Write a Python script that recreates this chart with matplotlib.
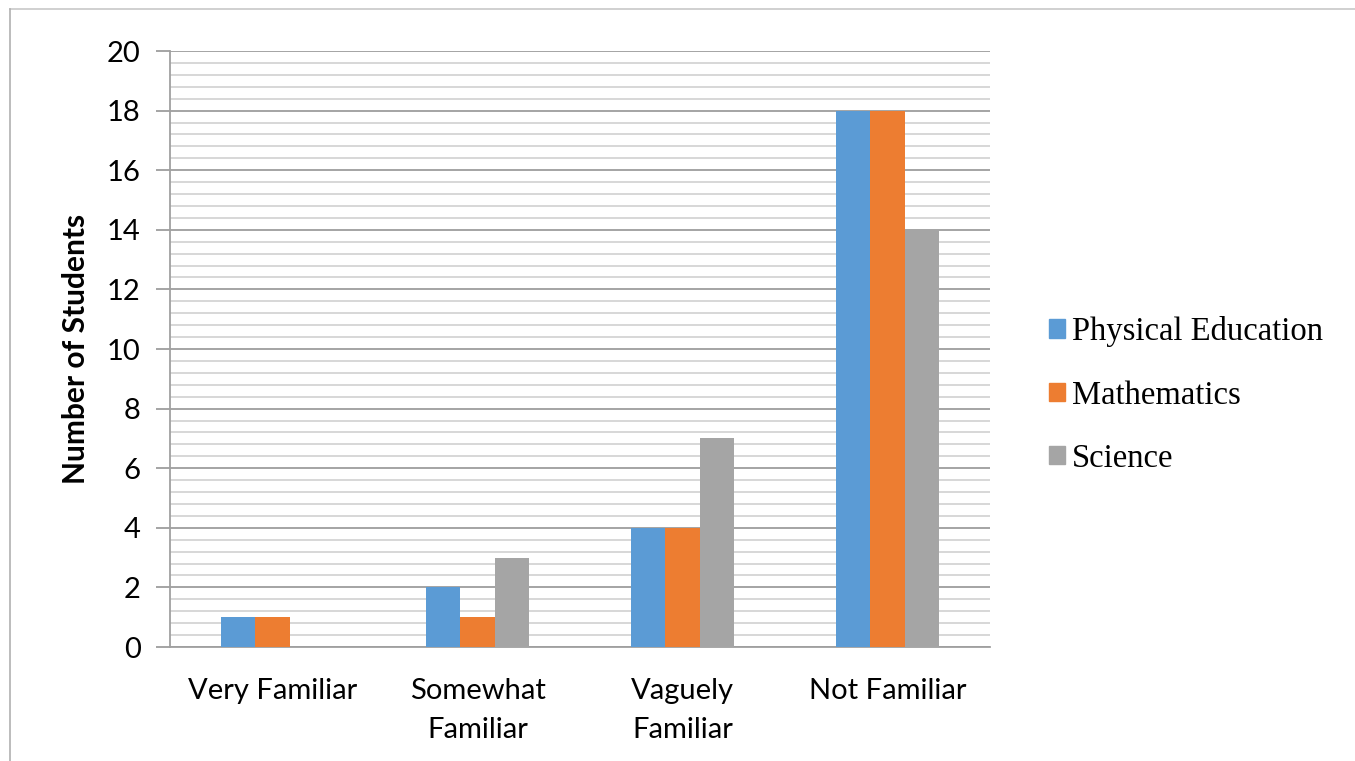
import matplotlib
matplotlib.use("Agg")
import matplotlib.pyplot as plt
from matplotlib.patches import Rectangle
from matplotlib.lines import Line2D
import numpy as np

categories = ["Very Familiar", "Somewhat\nFamiliar", "Vaguely\nFamiliar", "Not Familiar"]
series_names = ["Physical Education", "Mathematics", "Science"]
physical_education = [1, 2, 4, 18]
mathematics = [1, 1, 4, 18]
science = [0, 3, 7, 14]
colors = ["#5B9BD5", "#ED7D31", "#A5A5A5"]
y_ticks = [0, 2, 4, 6, 8, 10, 12, 14, 16, 18, 20]

sans = ["Lato", "DejaVu Sans"]
serif = ["Liberation Serif", "DejaVu Serif"]

fig = plt.figure(figsize=(13.55, 7.61), dpi=100)
ax = fig.add_axes([170 / 1355, 114 / 761, 820 / 1355, 596 / 761])

x = np.arange(len(categories))
width = 0.166
for i, (vals, c) in enumerate(zip([physical_education, mathematics, science], colors)):
    ax.bar(x + (i - 1) * width, vals, width, color=c, zorder=3, label=series_names[i])

ax.set_xlim(-0.5, len(categories) - 0.5)
ax.set_ylim(0, 20)
ax.set_yticks(y_ticks)
ax.set_yticks(np.arange(0, 20.01, 0.4), minor=True)
ax.grid(axis="y", which="major", color="#8c8c8c", linewidth=1.1, zorder=1)
ax.grid(axis="y", which="minor", color="#d4d4d4", linewidth=1.3, zorder=0)
ax.tick_params(axis="y", which="minor", length=0)
ax.tick_params(axis="y", which="major", length=10, width=1.1, color="#8c8c8c",
               labelsize=21, pad=11)
ax.tick_params(axis="x", length=0, labelsize=21, pad=22)
ax.set_xticks(x)
ax.set_xticklabels(categories, fontfamily=sans, linespacing=1.62, va="top")
for lab in ax.get_yticklabels():
    lab.set_fontfamily(sans)

for side in ["top", "right"]:
    ax.spines[side].set_visible(False)
ax.spines["left"].set_color("#a0a0a0")
ax.spines["left"].set_linewidth(1.3)
ax.spines["bottom"].set_color("#a0a0a0")
ax.spines["bottom"].set_linewidth(1.3)

ax.set_ylabel("Number of Students", fontsize=21.5, fontweight="bold",
              fontfamily=sans, labelpad=12)

handles = [Rectangle((0, 0), 1, 1, color=c) for c in colors]
leg = fig.legend(handles, series_names, loc="center left",
                 bbox_to_anchor=(1049 / 1355, 1 - 395 / 761), frameon=False,
                 prop={"family": serif, "size": 23.5}, handlelength=0.5,
                 handleheight=0.5, handletextpad=0.2, labelspacing=1.0,
                 borderaxespad=0, borderpad=0)

# thin frame along the top and left edges of the canvas
fig.add_artist(Line2D([10 / 1355, 1], [1 - 9 / 761, 1 - 9 / 761],
                      transform=fig.transFigure, color="#c8c8c8", linewidth=1.2))
fig.add_artist(Line2D([10 / 1355, 10 / 1355], [0, 1 - 9 / 761],
                      transform=fig.transFigure, color="#b0b0b0", linewidth=1.2))

fig.savefig("out.png", dpi=100)
